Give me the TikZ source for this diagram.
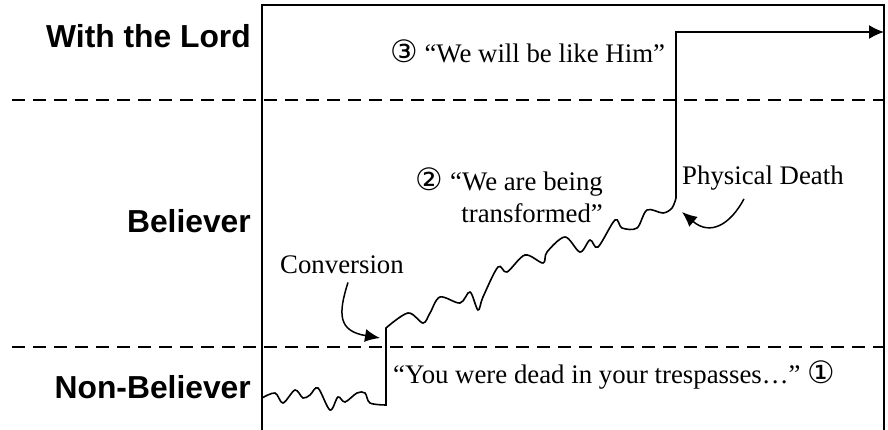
\documentclass[tikz,border=0pt]{standalone}
\usepackage{fontspec}
\setmainfont{Liberation Serif}
\setsansfont{Liberation Sans}
\newfontfamily\circfont[Scale=1.15]{DejaVu Sans}
\usetikzlibrary{arrows.meta,positioning}
\tikzset{
	x=1pt, y=-1pt, line join=round,
	frame/.style = {line width=1.6pt}, % the open box round the chart
	divider/.style = {line width=1.5pt, dash pattern=on 13pt off 8pt},
	lifeline/.style = {line width=1.6pt, -{Latex[length=15pt,width=14pt]}},
	pointer/.style = {line width=1.5pt, -{Latex[length=15pt,width=13pt]}},
	stage/.style = {font=\sffamily\bfseries\fontsize{31.8}{36}\selectfont, inner sep=0pt, anchor=base east},
	quote/.style = {font=\fontsize{26.8}{32}\selectfont, inner sep=0pt}
}
\newcommand{\cnum}[1]{{\circfont #1}}

\begin{document}
\begin{tikzpicture}
            \useasboundingbox (0,0) rectangle (888,430);
            % frame and the three levels
            \draw[frame] (262,432) -- (262,5) -- (884,5) -- (884,432);
            \draw[divider] (12,100) -- (884,100);
            \draw[divider] (12,347) -- (884,347);
            \node[stage] (lord) at (251,48) {With the Lord};
            \node[stage] (believer) at (251,233) {Believer};
            \node[stage] (nonbeliever) at (251,398) {Non-Believer};
            % texts
            \node[quote, anchor=base west] (like) at (390,63) {\cnum{③} “We will be like Him”};
            \node[quote, anchor=east, align=right] (transformed) at (603,195) {\cnum{②} “We are being\\transformed”};
            \node[quote, anchor=base west] (conv) at (280,273) {Conversion};
            \node[quote, anchor=base west] (death) at (682,185) {Physical Death};
            \node[quote, anchor=base west] (dead) at (393,383) {“You were dead in your trespasses…” \cnum{①}};
            % the life line
            \draw[lifeline] plot[smooth, tension=0.55] coordinates {(262,398) (275,393) (283,403) (295,390) (303,398) (310,395) (318,388) (330,410) (338,397) (345,402) (357,393) (365,393) (370,403) (386,405)}
              -- (386,328)
              -- plot[smooth, tension=0.55] coordinates {(386,328) (408,313) (423,323) (430,313) (440,297) (460,303) (470,292) (478,310) (483,297) (498,267) (507,272) (525,255) (543,263) (547,252) (565,237) (580,252) (590,240) (598,247) (615,220) (622,228) (637,228) (647,210) (663,213) (672,208) (676,198)}
              -- (676,32) -- (884,32);
            % pointers
            \coordinate (convtip) at (380,338);
            \coordinate (deathtip) at (682,212);
            \draw[pointer] ([xshift=6pt,yshift=-9pt]conv.south) .. controls (338,314) and (338,331) .. (convtip);
            \draw[pointer] ([xshift=-19pt,yshift=-8pt]death.south) .. controls (730,225) and (710,236) .. (deathtip);
        \end{tikzpicture}
\end{document}
